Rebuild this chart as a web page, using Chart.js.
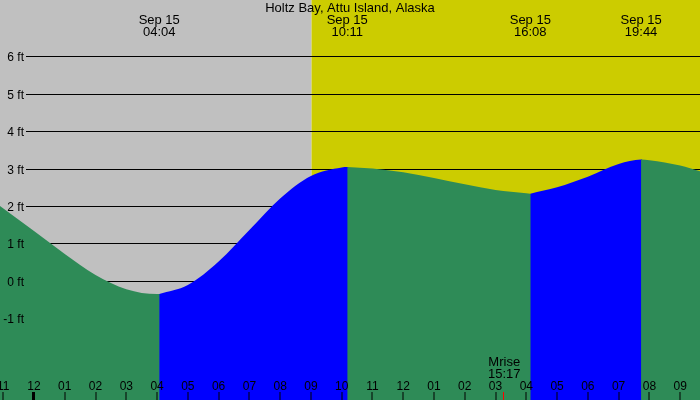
<!DOCTYPE html>
<html>
<head>
<meta charset="utf-8">
<script src="https://cdn.jsdelivr.net/npm/chart.js@4"></script>
<style>
  html, body { margin: 0; padding: 0; background: #fff; }
  #wrap { width: 700px; height: 400px; }
</style>
</head>
<body>
<div id="wrap"><canvas id="c" width="700" height="400"></canvas></div>
<script>
// ---- data ----
const chartTitle = "Holtz Bay, Attu Island, Alaska";
const tideHours = [-1.105, 0, 1, 2, 3, 4, 4.07, 5, 6, 7, 8, 9, 10, 10.18, 11, 12, 13, 14, 15, 16, 16.13, 17, 18, 19, 19.73, 20, 21, 21.645];
const tideFeet  = [2.00, 1.33, 0.72, 0.16, -0.22, -0.35, -0.35, -0.11, 0.52, 1.36, 2.20, 2.80, 3.03, 3.04, 3.00, 2.90, 2.75, 2.58, 2.43, 2.34, 2.33, 2.50, 2.78, 3.12, 3.24, 3.22, 3.08, 2.93];
const extremeHours = [4.07, 10.18, 16.13, 19.73];
const extremeDates = ["Sep 15", "Sep 15", "Sep 15", "Sep 15"];
const extremeTimes = ["04:04", "10:11", "16:08", "19:44"];
const yTickValues = [-1, 0, 1, 2, 3, 4, 5, 6];
const hourTicks = [-1, 0, 1, 2, 3, 4, 5, 6, 7, 8, 9, 10, 11, 12, 13, 14, 15, 16, 17, 18, 19, 20, 21];
const sunriseHour = 9.02;
const moonriseHour = 15.283;
const moonriseLabel = ["Mrise", "15:17"];
const xMin = -1.105, xMax = 21.645;
const yMin = -3.18, yMax = 7.5;

// ---- styles ----
const GREEN = "#2E8B57", BLUE = "#0000FF", NIGHT = "#C0C0C0", DAY = "#CCCC00";
const FONT = "Liberation Sans, Arial, sans-serif";

// split curve into falling / rising phases at extremes
const bounds = [xMin].concat(extremeHours, [xMax]);
const datasets = [];
for (let i = 0; i < bounds.length - 1; i++) {
  const a = bounds[i], b = bounds[i + 1];
  const pts = [];
  tideHours.forEach((h, k) => { if (h >= a - 1e-9 && h <= b + 1e-9) pts.push({ x: h, y: tideFeet[k] }); });
  if (i < bounds.length - 2) {
    // tiny overlap under the next phase (flat at the extreme) to avoid a seam
    pts.push({ x: b + 0.04, y: pts[pts.length - 1].y });
  }
  datasets.push({
    data: pts,
    order: bounds.length - i,
    fill: 'start',
    backgroundColor: (i % 2 === 0) ? GREEN : BLUE,
    borderWidth: 0,
    borderColor: 'rgba(0,0,0,0)',
    pointRadius: 0,
    cubicInterpolationMode: 'monotone'
  });
}

const decor = {
  id: 'decor',
  beforeDraw(chart) {
    const { ctx, chartArea: ca, scales: { x } } = chart;
    const xs = x.getPixelForValue(sunriseHour);
    ctx.save();
    ctx.fillStyle = NIGHT;
    ctx.fillRect(ca.left, ca.top, xs - ca.left, ca.bottom - ca.top);
    ctx.fillStyle = DAY;
    ctx.fillRect(xs, ca.top, ca.right - xs, ca.bottom - ca.top);
    ctx.restore();
  },
  beforeDatasetsDraw(chart) {
    const { ctx, chartArea: ca, scales: { y } } = chart;
    ctx.save();
    ctx.strokeStyle = "#000";
    ctx.lineWidth = 1;
    yTickValues.forEach(v => {
      const py = Math.round(y.getPixelForValue(v)) + 0.5;
      ctx.beginPath();
      ctx.moveTo(26, py);
      ctx.lineTo(ca.right, py);
      ctx.stroke();
    });
    ctx.restore();
  },
  afterDatasetsDraw(chart) {
    const { ctx, scales: { x, y } } = chart;
    ctx.save();
    ctx.fillStyle = "#000";
    // y labels
    ctx.font = "12px " + FONT;
    ctx.textAlign = "right";
    ctx.textBaseline = "alphabetic";
    yTickValues.forEach(v => {
      ctx.fillText(v + " ft", 24, Math.round(y.getPixelForValue(v)) + 4.5);
    });
    // title
    ctx.font = "13px " + FONT;
    ctx.textAlign = "center";
    ctx.fillText(chartTitle, 350, 12);
    // extreme labels
    extremeHours.forEach((h, i) => {
      const px = x.getPixelForValue(h);
      ctx.fillText(extremeDates[i], px, 24);
      ctx.fillText(extremeTimes[i], px, 36);
    });
    // moonrise
    const mx = x.getPixelForValue(moonriseHour);
    ctx.fillText(moonriseLabel[0], mx, 366);
    ctx.fillText(moonriseLabel[1], mx, 378);
    // hour labels and ticks
    ctx.font = "12px " + FONT;
    hourTicks.forEach(h => {
      const px = x.getPixelForValue(h);
      let hh = ((h % 12) + 12) % 12; if (hh === 0) hh = 12;
      ctx.fillText(String(hh).padStart(2, "0"), px, 390);
      if (h === 0) {
        ctx.fillRect(Math.round(px) - 2, 392, 3, 8);
      } else {
        ctx.fillRect(Math.round(px) - 0.5, 392, 1, 8);
      }
    });
    ctx.fillStyle = "#FF0000";
    ctx.fillRect(Math.round(mx) - 1, 392, 1, 8);
    ctx.restore();
  }
};

new Chart(document.getElementById('c'), {
  type: 'line',
  data: { datasets },
  options: {
    responsive: false,
    animation: false,
    devicePixelRatio: 1,
    layout: { padding: 0 },
    plugins: { legend: { display: false }, tooltip: { enabled: false }, title: { display: false } },
    scales: {
      x: { type: 'linear', min: xMin, max: xMax, display: false },
      y: { type: 'linear', min: yMin, max: yMax, display: false }
    },
    elements: { line: { borderWidth: 0 } }
  },
  plugins: [decor]
});
</script>
</body>
</html>
